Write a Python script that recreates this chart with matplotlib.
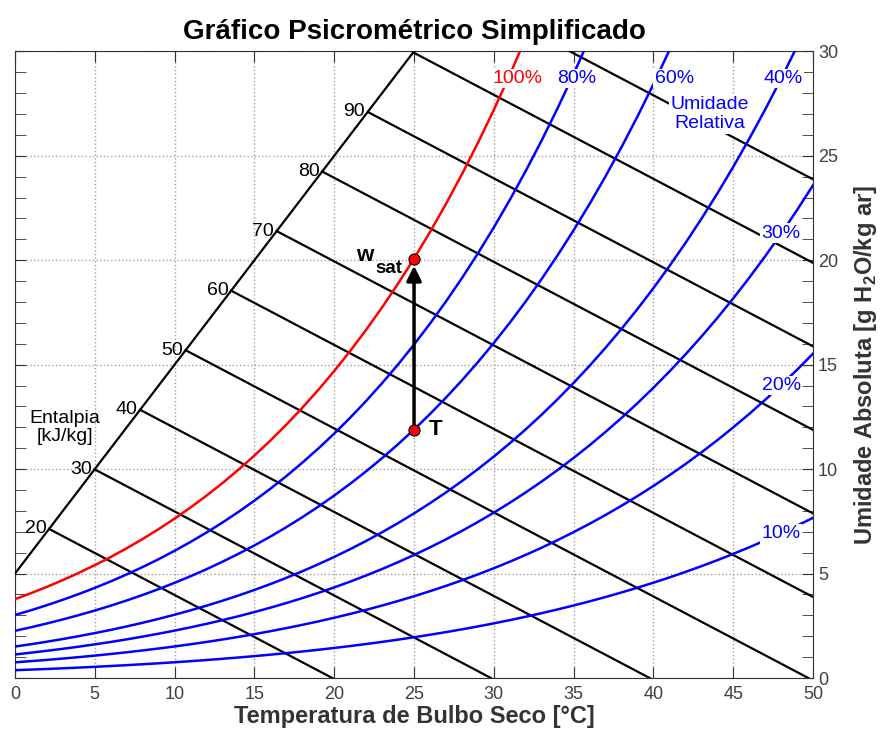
import numpy as np
import matplotlib
matplotlib.use('Agg')
import matplotlib.pyplot as plt

plt.rcParams['font.family'] = ['Liberation Sans', 'DejaVu Sans']
plt.rcParams['mathtext.fontset'] = 'custom'
plt.rcParams['mathtext.rm'] = 'Liberation Sans'
plt.rcParams['mathtext.bf'] = 'Liberation Sans:bold'

# pressao de saturacao da agua [kPa], 0..50 C
temp_tab = np.arange(0, 51)
psat_kpa = [0.6113, 0.6571, 0.7060, 0.7581, 0.8135, 0.8725, 0.9350, 1.0020, 1.0728, 1.1481,
            1.2281, 1.3127, 1.4027, 1.4979, 1.5988, 1.7057, 1.8185, 1.9380, 2.0644, 2.1978,
            2.3388, 2.4877, 2.6447, 2.8104, 2.9850, 3.1690, 3.3629, 3.5670, 3.7818, 4.0078,
            4.2455, 4.4953, 4.7578, 5.0335, 5.3229, 5.6267, 5.9453, 6.2795, 6.6298, 6.9969,
            7.3814, 7.7840, 8.2050, 8.6460, 9.1070, 9.5900, 10.094, 10.620, 11.171, 11.745,
            12.344]
p_atm = 101.325

rh_levels = [0.1, 0.2, 0.3, 0.4, 0.6, 0.8, 1.0]
rh_labels = ['10%', '20%', '30%', '40%', '60%', '80%', '100%']

h_levels = [20, 30, 40, 50, 60, 70, 80, 90, 100, 110]
h_labeled = [20, 30, 40, 50, 60, 70, 80, 90]

# ponto de exemplo
T_ponto = 25
rh_ponto = 0.6

def umidade(T, rh):
    ps = np.interp(T, temp_tab, psat_kpa)
    pv = rh * ps
    return 622.0 * pv / (p_atm - pv)

fig = plt.figure(figsize=(8.8, 7.33), dpi=100)
ax = fig.add_axes([0.017, 0.075, 0.907, 0.855])
ax.set_xlim(0, 50)
ax.set_ylim(0, 30)

#linha diagonal da escala de entalpia
diag = 5.0
td = np.array([0, 30 - diag])
ax.plot(td, td + diag, 'k-', lw=1.6, zorder=3)

#linhas de entalpia  h = 1.006 T + 2.501 w
for h in h_levels:
    t0 = (h - 2.501 * diag) / (1.006 + 2.501)
    w0 = t0 + diag
    if w0 > 30:
        w0 = 30
        t0 = (h - 2.501 * 30) / 1.006
    t1 = min(h / 1.006, 50)
    w1 = (h - 1.006 * t1) / 2.501
    ax.plot([t0, t1], [w0, w1], 'k-', lw=1.6, zorder=3)
    if h in h_labeled:
        ax.annotate(str(h), (t0, w0), xytext=(-2, 0), textcoords='offset points',
                    ha='right', va='center', fontsize=14, zorder=6)

#curvas de umidade relativa
lab_pos = {'10%': (48.0, 6.9), '20%': (48.0, 14.0), '30%': (48.0, 21.3), '40%': (48.1, 28.7),
           '60%': (41.3, 28.7), '80%': (35.2, 28.7), '100%': (31.5, 28.7)}
for rh, lab in zip(rh_levels, rh_labels):
    cor = 'red' if rh == 1.0 else 'blue'
    ax.plot(temp_tab, umidade(temp_tab, rh), '-', color=cor, lw=1.8, zorder=4)
    ax.text(lab_pos[lab][0], lab_pos[lab][1], lab, color=cor, fontsize=14, ha='center', va='center',
            zorder=6, bbox=dict(facecolor='white', edgecolor='none', pad=1))

ax.text(43.5, 27.0, 'Umidade\nRelativa', color='blue', fontsize=14, ha='center', va='center',
        linespacing=1.2, zorder=6, bbox=dict(facecolor='white', edgecolor='none', pad=1))
ax.text(3.1, 12.0, 'Entalpia\n[kJ/kg]', color='k', fontsize=14, ha='center', va='center',
        linespacing=1.1, zorder=6)

#ponto e seta
w_T = umidade(T_ponto, rh_ponto)
w_s = umidade(T_ponto, 1.0)
ax.annotate('', xy=(T_ponto, w_s - 0.35), xytext=(T_ponto, w_T),
            arrowprops=dict(arrowstyle='-|>', color='k', lw=2.5, mutation_scale=22,
                            shrinkA=0, shrinkB=0), zorder=7)
ax.plot([T_ponto, T_ponto], [w_T, w_s], 'o', ms=8, mfc='red', mec='k', mew=0.8, zorder=8)
ax.text(T_ponto - 0.75, w_s - 0.7, 'sat', fontsize=13.5, fontweight='bold', ha='right', va='baseline', zorder=8)
ax.text(T_ponto - 2.55, w_s - 0.1, 'w', fontsize=16, fontweight='bold', ha='right', va='baseline', zorder=8)
ax.text(T_ponto + 0.9, w_T, 'T', fontsize=16, fontweight='bold', ha='left', va='center', zorder=8)

#eixos
ax.set_xticks(np.arange(0, 51, 5))
ax.set_yticks(np.arange(0, 31, 5))
ax.set_yticks(np.arange(0, 31, 1), minor=True)
ax.grid(True, which='major', color='#a0a0a0', linestyle=':', lw=1)
ax.tick_params(which='both', direction='in', top=True, right=True, left=True, length=8,
               labelleft=False, labelright=True, labelsize=13, labelcolor='#404040', color='#333333')
ax.tick_params(axis='x', pad=6)
for s in ax.spines.values():
    s.set_color('#333333')
ax.yaxis.set_label_position('right')
ax.set_xlabel('Temperatura de Bulbo Seco [°C]', fontsize=17, fontweight='bold', color='#333333', labelpad=1)
ax.set_ylabel(r'Umidade Absoluta [g H$_\mathbf{2}$O/kg ar]', fontsize=17, fontweight='bold',
              color='#333333', labelpad=10)
ax.set_title('Gráfico Psicrométrico Simplificado', fontsize=20, fontweight='bold', pad=9)

plt.savefig('out.png', dpi=100)
